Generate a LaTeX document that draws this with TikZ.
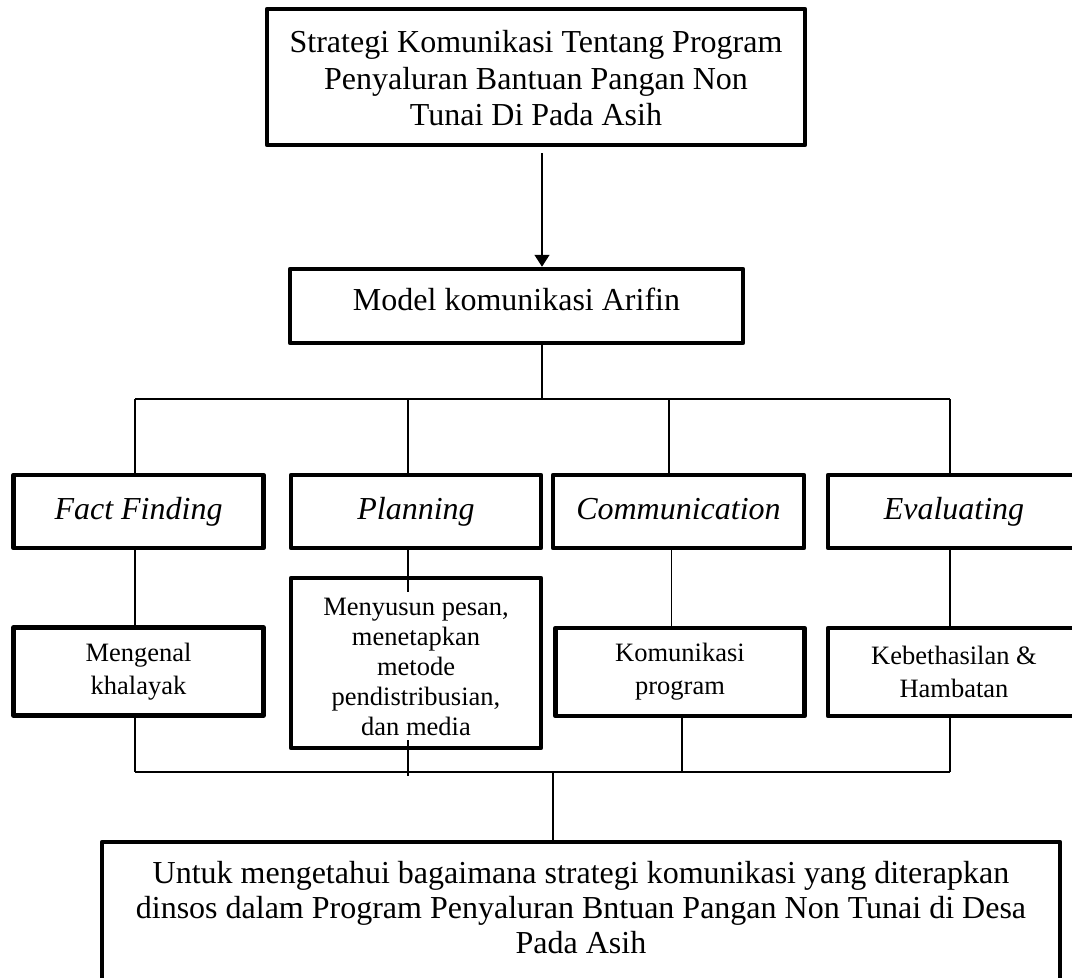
\documentclass[tikz,border=0pt]{standalone}
\usepackage{fontspec}
\setmainfont{Liberation Serif}
\usetikzlibrary{arrows.meta}
\newcommand{\liftbox}[2]{\raisebox{#1}[\height][\depth]{\begin{tabular}{@{}c@{}}#2\end{tabular}}}
\begin{document}
\begin{tikzpicture}[x=1pt,y=-1pt,
  boxbase/.style={draw, line width=4.5pt, line join=round, align=center, inner sep=0pt},
  bigbox/.style={boxbase, font=\fontsize{32}{36.6}\selectfont},
  widebox/.style={boxbase, font=\fontsize{32}{35}\selectfont},
  rowbox/.style={bigbox, text height=22pt, text depth=7pt},
  smallbox/.style={boxbase, font=\fontsize{26.5}{33}\selectfont},
  tallbox/.style={boxbase, font=\fontsize{26.5}{30}\selectfont},
  conn/.style={line width=1.4pt}]
\useasboundingbox (0,0) rectangle (1072,978);
% boxes
\node[bigbox, minimum width=538pt, minimum height=136pt] (top) at (536,77)
  {\liftbox{-5pt}{Strategi Komunikasi Tentang Program\\Penyaluran Bantuan Pangan Non\\Tunai Di Pada Asih}};
\node[bigbox, minimum width=453pt, minimum height=74pt] (model) at (516.5,306)
  {\liftbox{3pt}{Model komunikasi Arifin}};
\node[rowbox, minimum width=250pt, minimum height=73pt] (ff) at (138.5,511.5) {\textit{Fact Finding}};
\node[rowbox, minimum width=250pt, minimum height=73pt] (pl) at (416,511.5) {\textit{Planning}};
\node[rowbox, minimum width=251pt, minimum height=73pt] (co) at (678.5,511.5) {\textit{Communication}};
\node[rowbox, minimum width=252pt, minimum height=73pt] (ev) at (954,511.5) {\textit{Evaluating}};
\node[smallbox, minimum width=250pt, minimum height=88pt] (m1) at (138.5,671.5) {Mengenal\\khalayak};
\node[tallbox, minimum width=250pt, minimum height=170pt] (m2) at (416,663)
  {\liftbox{-6.5pt}{Menyusun pesan,\\menetapkan\\metode\\pendistribusian,\\dan media}};
\node[smallbox, minimum width=249pt, minimum height=88pt] (m3) at (680,672) {Komunikasi\\program};
\node[smallbox, minimum width=252pt, minimum height=88pt] (m4) at (954,672) {Kebethasilan \&\\Hambatan};
\node[widebox, minimum width=958pt, minimum height=144pt] (bot) at (581,914)
  {\liftbox{3pt}{Untuk mengetahui bagaimana strategi komunikasi yang diterapkan\\dinsos dalam Program Penyaluran Bntuan Pangan Non Tunai di Desa\\Pada Asih}};
% coordinates
\coordinate (a1) at ([xshift=6pt,yshift=-6pt]top.south);
\coordinate (b1) at (135,399);
\coordinate (b2) at (408,399);
\coordinate (b3) at (669,399);
\coordinate (b4) at (950,399);
\coordinate (c3) at (671.5,0);
\coordinate (p1) at (408,592);
\coordinate (p2) at (408,740);
\coordinate (p3) at (408,776);
\coordinate (d1) at (135,772);
\coordinate (dc) at (682,772);
\coordinate (d4) at (950,772);
\coordinate (dm) at (553,772);
% connectors
\draw[conn, -{Triangle[length=12pt,width=15pt]}] (a1) -- (a1 |- model.north);
\draw[conn] (a1 |- model.south) -- (a1 |- b1);
\draw[conn] (b1) -- (b4);
\draw[conn] (b1) -- (b1 |- ff.north);
\draw[conn] (b2) -- (b2 |- pl.north);
\draw[conn] (b3) -- (b3 |- co.north);
\draw[conn] (b4) -- (b4 |- ev.north);
\draw[conn] (b1 |- ff.south) -- (b1 |- m1.north);
\draw[conn] (b2 |- pl.south) -- (p1);
\draw[conn] (c3 |- co.south) -- (c3 |- m3.north);
\draw[conn] (b4 |- ev.south) -- (b4 |- m4.north);
\draw[conn] (p2) -- (p3);
\draw[conn] (d1) -- (d4);
\draw[conn] (d1 |- m1.south) -- (d1);
\draw[conn] (dc |- m3.south) -- (dc);
\draw[conn] (d4 |- m4.south) -- (d4);
\draw[conn] (dm) -- (dm |- bot.north);
\end{tikzpicture}
\end{document}
